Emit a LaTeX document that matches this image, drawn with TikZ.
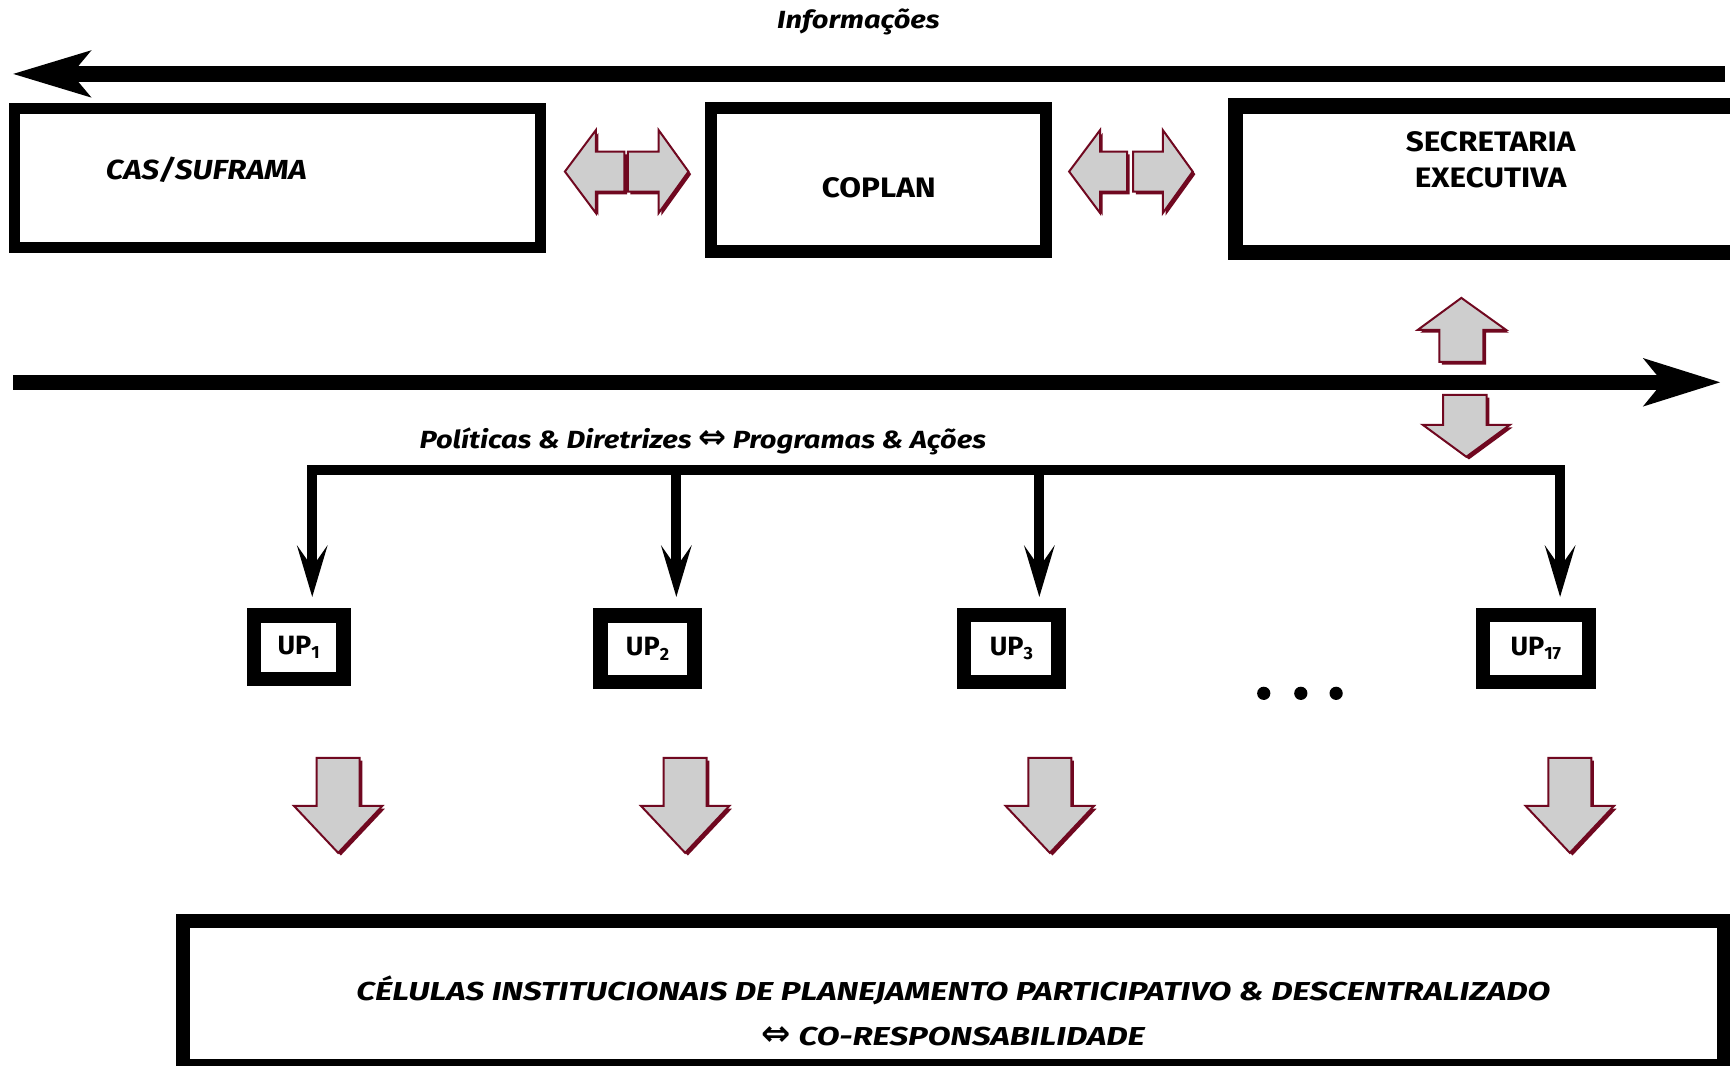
\documentclass[tikz,border=0pt]{standalone}
\usepackage{fontspec}
\setmainfont{Fira Sans}
\newfontfamily\symfont{DejaVu Sans}
\usetikzlibrary{calc}
\definecolor{arrgray}{RGB}{206,206,206}
\definecolor{arrred}{RGB}{112,8,32}
\newcommand\mybarrow[1]{\fill[arrred,shift={(2.4,2.4)}] #1; \draw[fill=arrgray,draw=arrred,line width=1.8pt,line join=miter] #1;}
\newcommand\myiff{{\symfont\scalebox{1.35}{⇔}}}
\tikzset{
  framebox/.style={draw=black, fill=white, rectangle, inner sep=0pt},
  lbl/.style={inner sep=0pt, font=\bfseries\fontsize{25.5}{32.5}\selectfont\addfontfeature{FakeStretch=1.12}},
  ilbl/.style={inner sep=0pt, font=\bfseries\itshape\fontsize{25}{30}\selectfont\addfontfeature{FakeStretch=1.13}},
  slbl/.style={inner sep=0pt, font=\bfseries\itshape\fontsize{22.5}{26}\selectfont\addfontfeature{FakeStretch=1.17}},
  upbox/.style={framebox, line width=13pt, font=\bfseries\fontsize{24}{28}\selectfont\addfontfeature{FakeStretch=1.02}},
  busline/.style={line width=9pt},
  dotnode/.style={circle, fill=black, inner sep=0pt, minimum size=12pt}
}
\newcommand\upsub[1]{\raisebox{-0.3ex}{\fontsize{16}{17}\selectfont #1}}
\begin{document}
\begin{tikzpicture}[x=1pt,y=-1pt]
\clip (0,0) rectangle (1568,966);
\fill[white] (0,0) rectangle (1568,966);

% top information arrow
\node[slbl] (info) at (778,20) {Informações};
\coordinate (infoR) at (1563,67);
\coordinate (infoL) at (12,67);
\draw[line width=14.2pt] (infoR) -- ($(infoL)+(53,0)$);
\fill (infoL) -- ++(71,-21.5) -- ++(-18,21.5) -- ++(18,21.5) -- cycle;

% top boxes
\node[framebox, line width=9.7pt, minimum width=476.8pt, minimum height=125.8pt] (cas) at (251.3,161.2) {};
\node[ilbl] (castxt) at (187,154) {CAS/SUFRAMA};
\node[framebox, line width=11pt, minimum width=303.5pt, minimum height=129.8pt] (coplan) at (796.25,163.1) {};
\node[lbl] (coplantxt) at (796.5,170) {COPLAN};
\node[framebox, line width=14pt, minimum width=470pt, minimum height=133pt] (sec) at (1355,162.5) {};
\node[lbl, align=center] (sectxt) at (1351,145) {SECRETARIA\\ EXECUTIVA};

% double block arrows between boxes
\mybarrow{(512,155.5) -- (540,118) -- (540,137.5) -- (566,137.5) -- (566,173.7) -- (540,173.7) -- (540,193) -- cycle}
\mybarrow{(624,155.5) -- (597,118) -- (597,137.5) -- (569,137.5) -- (569,173.7) -- (597,173.7) -- (597,193) -- cycle}
\mybarrow{(969,155.5) -- (997,118) -- (997,137.5) -- (1021.5,137.5) -- (1021.5,173.7) -- (997,173.7) -- (997,193) -- cycle}
\mybarrow{(1081,155.5) -- (1054,118) -- (1054,137.5) -- (1027,137.5) -- (1027,173.7) -- (1054,173.7) -- (1054,193) -- cycle}

% up / down arrows near secretaria
\mybarrow{(1324.5,270) -- (1365,299) -- (1344.5,299) -- (1344.5,328) -- (1304.5,328) -- (1304.5,299) -- (1285,299) -- cycle}
\mybarrow{(1308,358) -- (1347.5,358) -- (1347.5,385) -- (1368.5,385) -- (1329,414) -- (1289.5,385) -- (1308,385) -- cycle}

% politicas arrow
\coordinate (polL) at (12,346.5);
\coordinate (polR) at (1559,346.5);
\draw[line width=13.8pt] (polL) -- ($(polR)+(-52,0)$);
\fill (polR) -- ++(-70,-22) -- ++(18,22) -- ++(-18,22) -- cycle;
\node[slbl] (pol) at (637,400) {Políticas \& Diretrizes \myiff{} Programas \& Ações};

% bus
\coordinate (b1) at (283,426);
\coordinate (b2) at (613,426);
\coordinate (b3) at (942,426);
\coordinate (b4) at (1414,426);
\draw[busline, line cap=rect] (b1) -- (b4);
\foreach \i/\x in {1/283,2/613,3/942,4/1414}{
  \coordinate (t\i) at (\x,541);
  \draw[busline] (b\i) -- ($(t\i)+(0,-27)$);
  \fill (t\i) -- ++(-14,-47) -- ++(14,20) -- ++(14,-20) -- cycle;
}

% UP boxes
\node[upbox, minimum width=81.2pt, minimum height=57.4pt] (up1) at (270.7,586.6) {UP\upsub{1}};
\node[upbox, minimum width=85.2pt, minimum height=60.4pt] (up2) at (586.9,588.1) {UP\upsub{2}};
\node[upbox, minimum width=85.6pt, minimum height=60.8pt] (up3) at (916.7,587.9) {UP\upsub{3}};
\node[upbox, minimum width=96.1pt, minimum height=60.8pt] (up17) at (1392,587.9) {UP\upsub{17}};

% dots
\node[dotnode] (d1) at (1145.4,628.4) {};
\node[dotnode] (d2) at (1179,628.4) {};
\node[dotnode] (d3) at (1211,628.4) {};

% down block arrows
\foreach \c in {306.5,621,951.5,1422.8}{
  \mybarrow{(\c-19.5,687) -- (\c+19.5,687) -- (\c+19.5,730.5) -- (\c+40,730.5) -- (\c,773) -- (\c-40,730.5) -- (\c-19.5,730.5) -- cycle}
}

% bottom box
\node[framebox, line width=12.5pt, minimum width=1396pt, minimum height=131pt] (cel) at (864,900.5) {};
\node[inner sep=0pt, align=center, font=\bfseries\itshape\fontsize{23.5}{41}\selectfont\addfontfeature{FakeStretch=1.28}] (celtxt) at (864,916.5) {CÉLULAS INSTITUCIONAIS DE PLANEJAMENTO PARTICIPATIVO \& DESCENTRALIZADO\\\myiff{} CO-RESPONSABILIDADE};
\end{tikzpicture}
\end{document}
